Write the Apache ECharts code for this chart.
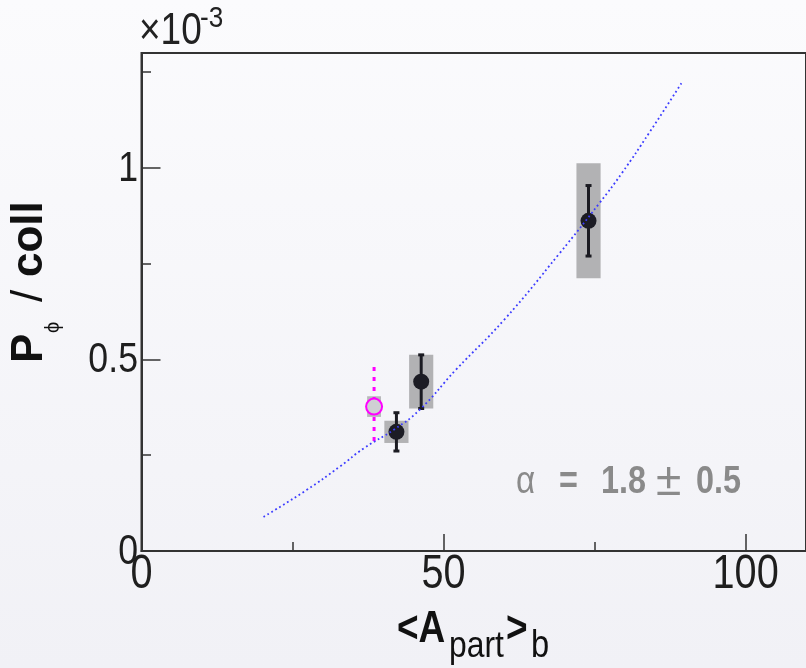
<!DOCTYPE html>
<html>
<head>
<meta charset="utf-8">
<script src="https://cdn.jsdelivr.net/npm/echarts@6/dist/echarts.min.js"></script>
<style>
  html, body { margin: 0; padding: 0; }
  #chart { width: 806px; height: 668px; }
</style>
</head>
<body>
<div id="chart"></div>
<script>
// Measured points: <A_part>_b, P_phi/coll (units of 1e-3), stat and syst errors
const npartX   = [42.2, 46.3, 74.0];
const pPhiY    = [0.311, 0.442, 0.862];
const statErr  = [0.050, 0.070, 0.092];
const sysErr   = [0.029, 0.070, 0.150];

// Reference point (open marker, dashed error bar)
const refX     = [38.5];
const refY     = [0.377];
const refStat  = [0.103];
const refSys   = [0.027];

// Power-law fit curve, alpha = 1.8 +- 0.5
const fitX = [20.2, 27.3, 32.8, 36.8, 41.9, 46.0, 52.1, 60.0, 69.2, 75.8, 79.5, 84.1, 89.5];
const fitY = [0.089, 0.159, 0.220, 0.268, 0.318, 0.368, 0.474, 0.603, 0.777, 0.908, 0.986, 1.093, 1.224];

// Axis ticks and their labels
const xMajorTicks = [0, 50, 100];
const xMinorTicks = [25, 75];
const xTickLabels = ['0', '50', '100'];
const yMajorTicks = [0, 0.5, 1];
const yMinorTicks = [0.25, 0.75, 1.25];
const yTickLabels = ['0', '0.5', '1'];

const SANS = "'Liberation Sans', Arial, Helvetica, sans-serif";
const AXIS_COLOR = '#333';
const NARROW = 0.83; // horizontal squeeze for the condensed Helvetica look

const mainPts = npartX.map((x, i) => [x, pPhiY[i], statErr[i], sysErr[i]]);
const refPts = refX.map((x, i) => [x, refY[i], refStat[i], refSys[i]]);
const fitPts = fitX.map((x, i) => [x, fitY[i]]);

function sysBox(halfW, fill) {
  return function (params, api) {
    const x = api.value(0), y = api.value(1), s = api.value(3);
    const p1 = api.coord([x - halfW, y + s]);
    const p2 = api.coord([x + halfW, y - s]);
    return { type: 'rect', shape: { x: p1[0], y: p1[1], width: p2[0] - p1[0], height: p2[1] - p1[1] },
             style: { fill: fill } };
  };
}

function statBar(color, dashed) {
  return function (params, api) {
    const x = api.value(0), y = api.value(1), e = api.value(2);
    const top = api.coord([x, y + e]);
    const bot = api.coord([x, y - e]);
    const children = [{
      type: 'line',
      shape: { x1: top[0], y1: top[1], x2: bot[0], y2: bot[1] },
      style: { stroke: color, lineWidth: 3, lineDash: dashed ? [4, 6] : null, lineCap: 'butt' }
    }];
    if (!dashed) {
      children.push({ type: 'rect', shape: { x: top[0] - 3, y: top[1] - 1.5, width: 6, height: 3 }, style: { fill: color } });
      children.push({ type: 'rect', shape: { x: bot[0] - 3, y: bot[1] - 1.5, width: 6, height: 3 }, style: { fill: color } });
    }
    return { type: 'group', children: children };
  };
}

// Text helper: condensed text element, vertically centred on y
function txt(x, y, text, font, fill, align, sx) {
  return {
    type: 'text', x: x, y: y, scaleX: sx || NARROW, z: 50,
    style: { text: text, font: font + ' ' + SANS, fill: fill, align: align || 'left', verticalAlign: 'middle' }
  };
}

const chart = echarts.init(document.getElementById('chart'), null, { renderer: 'canvas' });

function axisPair(dim, majors, minors, majLen, minLen, max) {
  const base = { type: 'value', min: 0, max: max, position: dim === 'x' ? 'bottom' : 'left', splitLine: { show: false } };
  return [
    Object.assign({}, base, {
      axisLine: { show: true, onZero: false, lineStyle: { color: AXIS_COLOR, width: 2 } },
      axisTick: { show: true, inside: true, length: majLen, customValues: majors, lineStyle: { color: AXIS_COLOR, width: 1.5 } },
      axisLabel: { show: false }
    }),
    Object.assign({}, base, {
      axisLine: { show: false, onZero: false },
      axisTick: { show: true, inside: true, length: minLen, customValues: minors, lineStyle: { color: AXIS_COLOR, width: 1.5 } },
      axisLabel: { show: false }
    })
  ];
}

chart.setOption({
  animation: false,
  backgroundColor: {
    type: 'linear', x: 0, y: 0, x2: 0, y2: 1,
    colorStops: [{ offset: 0, color: '#fbfbfd' }, { offset: 1, color: '#f1f1f6' }]
  },
  grid: {
    left: 141.5, top: 53, right: -1, bottom: 117,
    show: true, borderColor: AXIS_COLOR, borderWidth: 2, backgroundColor: 'transparent'
  },
  xAxis: axisPair('x', xMajorTicks, xMinorTicks, 17, 9, 110),
  yAxis: axisPair('y', yMajorTicks, yMinorTicks, 19, 9.5, 1.3),
  series: [
    { type: 'custom', name: 'syst', data: mainPts, renderItem: sysBox(2.0, '#b2b2b4'), z: 2 },
    { type: 'custom', name: 'ref syst', data: refPts, renderItem: sysBox(1.15, '#b8b8bb'), z: 2 },
    { type: 'custom', name: 'stat', data: mainPts, renderItem: statBar('#1b1b22', false), z: 3 },
    { type: 'custom', name: 'ref stat', data: refPts, renderItem: statBar('#ff00ff', true), z: 3 },
    { type: 'scatter', name: 'P_phi', data: mainPts, symbol: 'circle', symbolSize: 16,
      itemStyle: { color: '#1c1c24', opacity: 1 }, z: 4 },
    { type: 'scatter', name: 'ref', data: refPts, symbol: 'circle', symbolSize: 16,
      itemStyle: { color: '#cfcfd3', borderColor: '#ff00ff', borderWidth: 2, opacity: 1 }, z: 4 },
    { type: 'line', name: 'fit', data: fitPts, smooth: true, showSymbol: false, symbol: 'none',
      lineStyle: { color: '#3c3cff', width: 1.8, type: [1.8, 2.8] }, z: 6 }
  ]
});

// Tick labels placed at the axis positions
const labels = [];
xMajorTicks.forEach((v, i) => {
  const px = chart.convertToPixel({ xAxisIndex: 0 }, v);
  const py = chart.convertToPixel({ yAxisIndex: 0 }, 0);
  labels.push(txt(px, py + 23.5, xTickLabels[i], '49px', '#1e1e1e', 'center', 0.81));
});
yMajorTicks.forEach((v, i) => {
  const px = chart.convertToPixel({ xAxisIndex: 0 }, 0);
  const py = chart.convertToPixel({ yAxisIndex: 0 }, v);
  labels.push(txt(px - 3.5, py + 1, yTickLabels[i], '42px', '#1e1e1e', 'right', 0.85));
});

chart.setOption({
  graphic: labels.concat([
    // exponent
    txt(139, 32, '\u00d710', '44px', '#222', 'left', 0.84),
    txt(200, 19, '-3', '29px', '#222', 'left', 0.9),
    // x title
    txt(397, 630, '<A', 'bold 44px', '#111', 'left', 0.84),
    txt(449, 647, 'part', '37px', '#111', 'left', 0.86),
    txt(506, 630, '>', 'bold 44px', '#111', 'left', 0.84),
    txt(531, 647, 'b', '38px', '#111', 'left', 0.86),
    // y title, rotated
    {
      type: 'group', x: 45, y: 363, rotation: Math.PI / 2,
      children: [
        txt(0, -15, 'P', 'bold 44px', '#111', 'left', 1),
        txt(30, 8, '\u03d5', '20px', '#111', 'left', 1),
        txt(61, -15, '/', '44px', '#111', 'left', 1),
        txt(86, -15, 'coll', 'bold 44px', '#111', 'left', 1)
      ]
    },
    // fit result
    txt(516, 482, '\u03b1', '39px', '#8a8a8a', 'left', 0.85),
    txt(559, 482, '=', 'bold 39px', '#8a8a8a', 'left', 0.83),
    txt(601, 482, '1.8', 'bold 39px', '#8a8a8a', 'left', 0.83),
    txt(656, 482, '\u00b1', '46px', '#8a8a8a', 'left', 1),
    txt(696, 482, '0.5', 'bold 39px', '#8a8a8a', 'left', 0.83)
  ])
});
</script>
</body>
</html>
